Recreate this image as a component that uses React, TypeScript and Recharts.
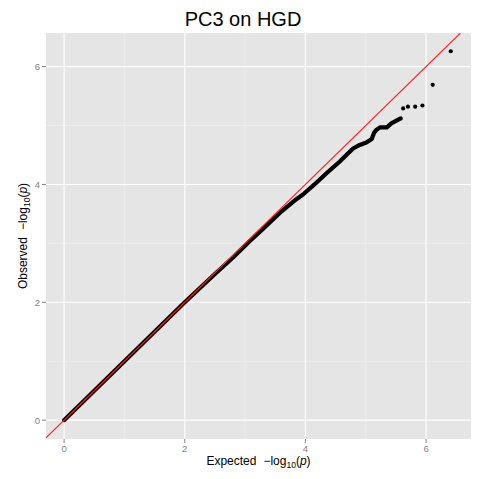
import {
  ComposedChart,
  Line,
  Scatter,
  XAxis,
  YAxis,
  CartesianGrid,
  Label,
} from "recharts";

// dense part of the QQ trace (expected vs observed -log10 p)
const bandExpected = [
  0, 0.5, 1, 1.5, 2, 2.5, 2.8, 3.08, 3.3, 3.58, 3.85, 3.96, 4.15, 4.35, 4.57,
  4.79, 4.9, 5.01, 5.1, 5.14, 5.18, 5.24, 5.35, 5.43, 5.58,
];
const bandObserved = [
  0, 0.5, 1, 1.5, 2, 2.48, 2.76, 3.04, 3.25, 3.52, 3.75, 3.83, 4.0, 4.19, 4.39,
  4.61, 4.67, 4.71, 4.77, 4.88, 4.93, 4.97, 4.97, 5.04, 5.12,
];

// sparse tail
const tailExpected = [5.62, 5.7, 5.82, 5.94, 6.11, 6.41];
const tailObserved = [5.29, 5.32, 5.32, 5.34, 5.69, 6.26];

const majorTicks = [0, 2, 4, 6];
const minorTicks = [1, 3, 5];

const xDomain: [number, number] = [-0.3, 6.745];
const yDomain: [number, number] = [-0.32, 6.57];

const band = bandExpected.map((e, i) => ({ expected: e, observed: bandObserved[i] }));
const tail = tailExpected.map((e, i) => ({ expected: e, observed: tailObserved[i] }));

// y = x reference, spanning the visible panel
const lo = Math.max(xDomain[0], yDomain[0]);
const hi = Math.min(xDomain[1], yDomain[1]);
const identity = [
  { expected: lo, observed: lo },
  { expected: hi, observed: hi },
];

const FONT = "'Liberation Sans', Arial, Helvetica, sans-serif";
const tickStyle = { fontSize: 9.6, fill: "#7F7F7F", fontFamily: FONT };

// "<name>  −log10(p)" with subscript and italic p
function AxisText({ name }: { name: string }) {
  return (
    <>
      <tspan>{name}</tspan>
      <tspan dx={7}>−log</tspan>
      <tspan dy={3} fontSize={8.5}>10</tspan>
      <tspan dy={-3}>(</tspan>
      <tspan fontStyle="italic">p</tspan>
      <tspan>)</tspan>
    </>
  );
}

function XTitle(props: any) {
  const { viewBox } = props;
  const cx = viewBox.x + viewBox.width / 2;
  return (
    <text x={cx} y={465} textAnchor="middle" fontSize={12} fontFamily={FONT} fill="#000">
      <AxisText name="Expected" />
    </text>
  );
}

function YTitle(props: any) {
  const { viewBox } = props;
  const cy = viewBox.y + viewBox.height / 2;
  const cx = 27;
  return (
    <text
      x={cx}
      y={cy}
      textAnchor="middle"
      fontSize={12}
      fontFamily={FONT}
      fill="#000"
      transform={`rotate(-90, ${cx}, ${cy})`}
    >
      <AxisText name="Observed" />
    </text>
  );
}

const Dot = (props: any) => <circle cx={props.cx} cy={props.cy} r={2.1} fill="#000" />;

export default function App() {
  return (
    <div style={{ position: "absolute", left: 0, top: 0, width: 482, height: 479, background: "#fff" }}>
      <div
        style={{
          position: "absolute",
          left: 0,
          top: 9,
          width: 486,
          textAlign: "center",
          fontFamily: FONT,
          fontSize: 20,
          lineHeight: "20px",
          color: "#000",
        }}
      >
        PC3 on HGD
      </div>
      <ComposedChart
        width={482}
        height={479}
        margin={{ top: 33, right: 11, bottom: 0, left: 0 }}
        style={{ position: "absolute", left: 0, top: 0 }}
      >
        <CartesianGrid
          fill="#E5E5E5"
          stroke="#F2F2F2"
          strokeWidth={0.6}
          verticalValues={minorTicks}
          horizontalValues={minorTicks}
        />
        <CartesianGrid
          stroke="#FFFFFF"
          strokeWidth={1.1}
          verticalValues={majorTicks}
          horizontalValues={majorTicks}
        />
        <XAxis
          type="number"
          dataKey="expected"
          domain={xDomain}
          ticks={majorTicks}
          allowDataOverflow
          height={40}
          axisLine={false}
          tickSize={4}
          tickMargin={2}
          tickLine={{ stroke: "#7F7F7F" }}
          tick={tickStyle}
        >
          <Label content={XTitle} />
        </XAxis>
        <YAxis
          type="number"
          dataKey="observed"
          domain={yDomain}
          ticks={majorTicks}
          allowDataOverflow
          width={46}
          axisLine={false}
          tickSize={4}
          tickMargin={2}
          tickLine={{ stroke: "#7F7F7F" }}
          tick={tickStyle}
        >
          <Label content={YTitle} />
        </YAxis>
        <Line
          data={band}
          dataKey="observed"
          stroke="#000"
          strokeWidth={4.2}
          strokeLinecap="round"
          strokeLinejoin="round"
          dot={false}
          activeDot={false}
          isAnimationActive={false}
        />
        <Scatter data={tail} dataKey="observed" shape={Dot} isAnimationActive={false} />
        <Line
          data={identity}
          dataKey="observed"
          stroke="#FF2020"
          strokeWidth={1.1}
          dot={false}
          activeDot={false}
          isAnimationActive={false}
        />
      </ComposedChart>
    </div>
  );
}
